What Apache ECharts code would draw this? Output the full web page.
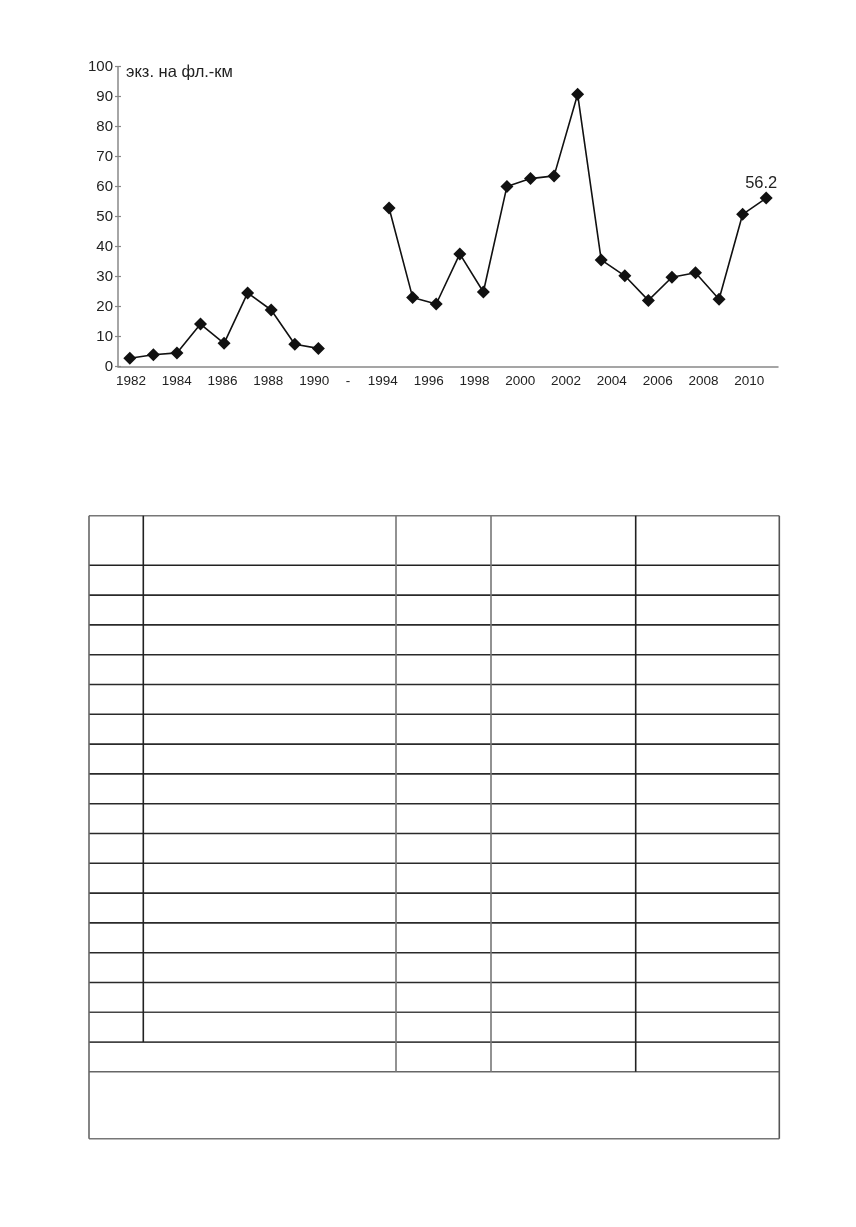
<!DOCTYPE html>
<html>
<head>
<meta charset="utf-8">
<script src="https://cdn.jsdelivr.net/npm/echarts@6/dist/echarts.min.js"></script>
<style>
html,body{margin:0;padding:0;background:#fff;}
#c{width:856px;height:1227px;}
</style>
</head>
<body>
<div id="c"></div>
<script>
// ---- data ----
const years = ['1982','1983','1984','1985','1986','1987','1988','1989','1990','','-',
  '1994','1995','1996','1997','1998','1999','2000','2001','2002','2003','2004','2005','2006','2007','2008','2009','2010'];
const values = [2.8,4.0,4.6,14.2,7.8,24.6,18.9,7.5,6.1,null,null,
  52.9,23.1,20.9,37.6,24.9,60.1,62.7,63.6,90.8,35.6,30.3,22.1,29.8,31.3,22.5,50.8,56.2];
const yMin = 0, yMax = 100, yStep = 10;
const unitLabel = 'экз. на фл.-км';
const tableBodyRows = 16;

const FONT = '"Liberation Sans", Arial, sans-serif';
const chart = echarts.init(document.getElementById('c'), null, {renderer:'canvas'});

// ---- table drawn with graphic lines ----
const tL = 89, tR = 779.3, tTop = 515.7, hdrBot = 565.3, rowH = 29.8;
const cols = [143.3, 396, 491, 635.7];
const bodyBot = hdrBot + tableBodyRows * rowH;
const sumBot = bodyBot + 29.7;
const tBot = 1138.7;
const g = [];
function ln(x1,y1,x2,y2,c){ g.push({type:'line',silent:true,shape:{x1,y1,x2,y2},style:{stroke:c,lineWidth:1.6}}); }
ln(tL,tTop,tR,tTop,'#777');
ln(tL,hdrBot,tR,hdrBot,'#222');
for(let i=1;i<=tableBodyRows;i++){ const y=hdrBot+i*rowH; ln(tL,y,tR,y, i>=tableBodyRows-1?'#444':'#2a2a2a'); }
ln(tL,sumBot,tR,sumBot,'#666');
ln(tL,tBot,tR,tBot,'#777');
ln(tL,tTop,tL,tBot,'#666');
ln(tR,tTop,tR,tBot,'#555');
ln(cols[0],tTop,cols[0],bodyBot,'#222');
ln(cols[1],tTop,cols[1],sumBot,'#777');
ln(cols[2],tTop,cols[2],sumBot,'#777');
ln(cols[3],tTop,cols[3],sumBot,'#222');

const option = {
  animation:false,
  backgroundColor:'#fff',
  title:{text:unitLabel,left:121,top:59,textStyle:{fontFamily:FONT,fontSize:16.5,fontWeight:'normal',color:'#222'}},
  grid:[
    {left:118,right:78,top:66.7,bottom:860.3,containLabel:false},
    {left:119.5,right:95.3,top:66.7,bottom:860.3,containLabel:false}
  ],
  xAxis:[
    {type:'category',gridIndex:0,data:years,boundaryGap:true,
     axisLine:{lineStyle:{color:'#888',width:1.5}},axisTick:{show:false},axisLabel:{show:false},splitLine:{show:false}},
    {type:'category',gridIndex:1,data:years,boundaryGap:true,
     axisLine:{show:false},axisTick:{show:false},splitLine:{show:false},
     axisLabel:{show:true,margin:8,fontFamily:FONT,fontSize:13.5,color:'#222',
       interval:(i,v)=> v!=='' && (i<=10 ? i%2===0 : i%2===1),
       formatter:v=> v==='-' ? '{d|-}' : v,
       rich:{d:{fontFamily:FONT,fontSize:13.5,color:'#222',padding:[0,24,0,0]}}}}
  ],
  yAxis:[
    {type:'value',gridIndex:0,min:yMin,max:yMax,interval:yStep,
     axisLine:{show:true,lineStyle:{color:'#888',width:1.5}},
     axisTick:{show:true,length:3,lineStyle:{color:'#888',width:1.2}},
     axisLabel:{margin:5,fontFamily:FONT,fontSize:15,color:'#222'},splitLine:{show:false}},
    {type:'value',gridIndex:0,min:yMin,max:yMax,interval:yStep,position:'left',
     axisLine:{show:false},axisTick:{show:true,inside:true,length:3,lineStyle:{color:'#888',width:1.2}},
     axisLabel:{show:false},splitLine:{show:false}},
    {type:'value',gridIndex:1,min:yMin,max:yMax,show:false}
  ],
  series:[{
    type:'line',xAxisIndex:0,yAxisIndex:0,data:values,connectNulls:false,
    symbol:'diamond',symbolSize:13,
    lineStyle:{color:'#111',width:1.6},
    itemStyle:{color:'#111'},
    label:{show:true,position:'top',distance:5,offset:[-5,5],fontFamily:FONT,fontSize:16.5,color:'#222',
      formatter:p=> p.dataIndex===values.length-1 ? String(p.value) : ''}
  }],
  graphic:g
};
chart.setOption(option);
</script>
</body>
</html>
